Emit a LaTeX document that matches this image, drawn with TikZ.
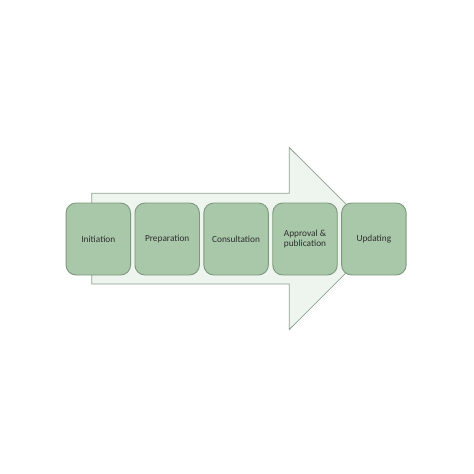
\documentclass[tikz,border=0pt]{standalone}
\usepackage{fontspec}
\setmainfont{Carlito}
\definecolor{boxfill}{HTML}{A9C8A9}
\definecolor{boxline}{HTML}{7E977E}
\definecolor{arrowfill}{HTML}{EEF4EE}
\definecolor{arrowline}{HTML}{8FA08F}
\definecolor{txt}{HTML}{2E2E2E}
\tikzset{
  stagebox/.style={draw=boxline, line width=0.9pt, fill=boxfill, rounded corners=10pt,
    minimum width=64.5pt, minimum height=72pt, inner sep=1pt, align=center,
    text=txt, font=\fontsize{9.3pt}{10.5pt}\selectfont},
  bigarrow/.style={draw=arrowline, line width=0.8pt, fill=arrowfill}
}
\begin{document}
\begin{tikzpicture}[x=1pt,y=-1pt]
\useasboundingbox (0,0) rectangle (474,474);
\draw[bigarrow] (91.7,193.3) -- (289.3,193.3) -- (289.3,147.5) -- (380.5,238.5)
  -- (289.3,329.5) -- (289.3,284) -- (91.7,284) -- cycle;
\node[stagebox] (s1) at (98.3,239) {Initiation};
\node[stagebox] (s2) at (167.2,239) {Preparation};
\node[stagebox] (s3) at (236.1,239) {Consultation};
\node[stagebox] (s4) at (305,239) {Approval \&\\publication};
\node[stagebox] (s5) at (373.9,239) {Updating};
\end{tikzpicture}
\end{document}
